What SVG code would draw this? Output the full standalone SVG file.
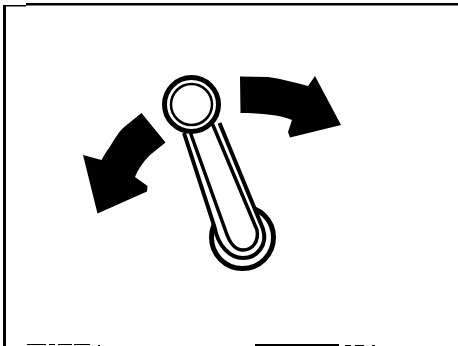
<svg xmlns="http://www.w3.org/2000/svg" width="458" height="346" viewBox="0 0 458 346">
<style>.k{fill:#000}.w{fill:#fff}.o{fill:none;stroke:#000}</style>
<rect width="458" height="346" fill="#fff"/>
<g id="frame">
<path class="k" d="M3 5H26V3H458V5.500H26V6.500H6V346H3Z"/>
<path class="k" d="M255 344H339V346H255Z"/>
<path class="k" d="M27 344H46V345H27ZM49 344H55V345H49ZM58 344H72V345H58ZM74 344H90V345H74ZM98 345H100V346H98ZM345 345H351V346H345ZM355 345H364V346H355ZM372 345H375V346H372Z"/>
</g>
<g id="arrow-right">
<path class="k" d="M240 76.500L268 77C283 79 296 83 308 86L315 76L341 125L290 137.500L288 132L292 120C280 115 262 113 240.500 113Z"/>
</g>
<g id="arrow-left">
<path class="k" d="M141.500 113L165.500 142.500L150 155C143 162 138 169 135 177L147.500 186L147 191.500L97.500 213.500L83 155L101.500 160C104 155 107 151 110 146.500C114 140 118 133 123 128Z"/>
</g>
<g id="lever">
<circle class="o" cx="242.500" cy="237.500" r="31" stroke-width="5" fill="#fff"/>
<path class="w" stroke="#000" stroke-width="4" d="M184 133L214.500 227C218 246 230 258 243 258C257 258 268 245 263 229L219.500 123"/>
<path class="o" stroke-width="3.500" d="M190.500 133L226 232C230 244 236 250 243 250C253 250 259 241 257 230L212.500 124"/>
<circle class="w" cx="191.500" cy="104.500" r="29"/>
<circle class="o" cx="191.500" cy="104.500" r="27" stroke-width="5"/>
<circle class="o" cx="191.500" cy="104.500" r="20.500" stroke-width="2.500"/>
</g>
</svg>
